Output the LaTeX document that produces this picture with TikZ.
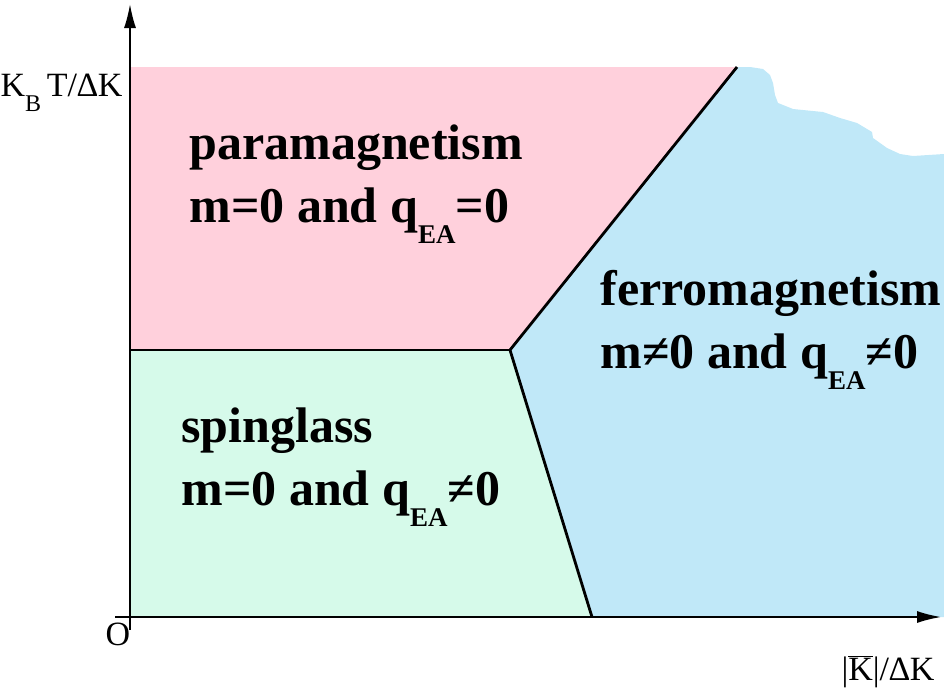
\documentclass[tikz,border=0pt]{standalone}
\usepackage{fontspec}
\setmainfont{Liberation Serif}
\usepackage{xcolor}
\usetikzlibrary{arrows.meta}
\definecolor{ParaPink}{HTML}{FFD0DC}
\definecolor{GlassGreen}{HTML}{D6FAEA}
\definecolor{FerroBlue}{HTML}{C0E8F8}
\newcommand{\subEA}{\raisebox{-0.42em}{\fontsize{27}{29}\selectfont EA}}

\begin{document}
\begin{tikzpicture}[x=1pt,y=-1pt,
	axisline/.style={line width=1.6pt, -{Latex[length=24pt,width=12pt]}},
	phaseline/.style={line width=2.8pt},
	phaselabel/.style={anchor=base west, align=left, font=\bfseries\fontsize{50}{63}\selectfont},
	axislabel/.style={font=\fontsize{34}{36}\selectfont}]
	\useasboundingbox (0,0) rectangle (944,696);

	% corner points of the phase regions
	\coordinate (origin) at (130,617);
	\coordinate (topleft) at (130,67);
	\coordinate (topmid) at (737,67);
	\coordinate (midleft) at (130,350);
	\coordinate (triple) at (510,350);
	\coordinate (bottommid) at (592,617);
	\coordinate (rightedge) at (944,617);

	% regions
	\fill[ParaPink] (topleft) -- (topmid) -- (triple) -- (midleft) -- cycle;
	\fill[GlassGreen] (midleft) -- (triple) -- (bottommid) -- (origin) -- cycle;
	\fill[FerroBlue] (topmid) -- (750,67) -- (763,69) -- (770,75) -- (773,83) -- (775,95)
		-- (778,103) -- (793,109) -- (823,112) -- (840,118) -- (857,123) -- (872,132)
		-- (873,138) -- (887,148) -- (900,154) -- (913,156) -- (944,154)
		-- (rightedge) -- (bottommid) -- (triple) -- cycle;

	% axes
	\coordinate (yfoot) at (130,630);
	\coordinate (ytip) at (130,4);
	\coordinate (xfoot) at (115,617);
	\coordinate (xtip) at (941,617);
	\draw[axisline] (yfoot) -- (ytip);
	\draw[axisline] (xfoot) -- (xtip);

	% phase boundaries
	\draw[phaseline] (midleft) -- (triple);
	\draw[phaseline] (topmid) -- (triple) -- (bottommid);

	% axis labels
	\node[axislabel, anchor=base east] (ylabel) at (126,96) {K\raisebox{-0.45em}{\fontsize{24}{26}\selectfont B}\,T/∆K};
	\node[axislabel, anchor=base east] (xlabel) at (938,680) {|$\overline{\mbox{K}}$|/∆K};
	\node[axislabel, anchor=center] (zero) at (118,634) {O};

	% phase labels (anchored at the second line)
	\node[phaselabel] (para) at (186,222) {paramagnetism\\m=0 and q\subEA=0};
	\node[phaselabel] (ferro) at (597,368) {ferromagnetism\\m≠0 and q\subEA≠0};
	\node[phaselabel] (glass) at (178,505) {spinglass\\m=0 and q\subEA≠0};
\end{tikzpicture}
\end{document}
